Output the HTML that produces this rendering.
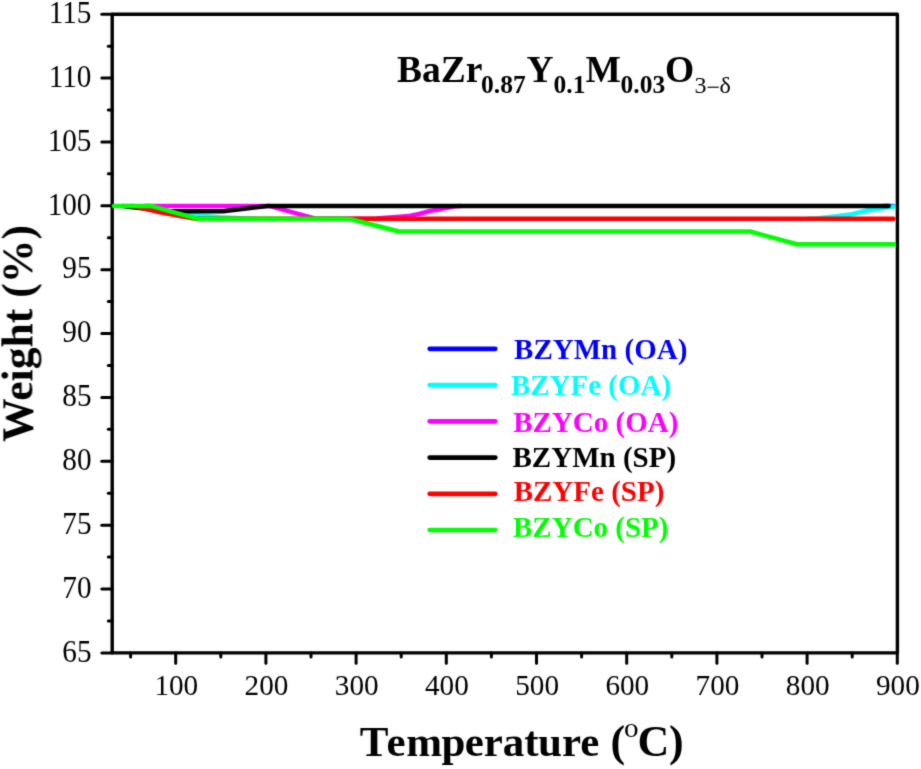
<!DOCTYPE html>
<html><head><meta charset="utf-8"><style>
html,body{margin:0;padding:0;background:#fff;width:921px;height:769px;overflow:hidden;}
svg{display:block;}
text{font-family:"Liberation Serif",serif;}
</style></head><body>
<svg width="921" height="769" viewBox="0 0 921 769">
<defs><filter id="bl" filterUnits="userSpaceOnUse" x="0" y="0" width="921" height="769" color-interpolation-filters="sRGB"><feConvolveMatrix order="3" kernelMatrix="0.01917 0.10012 0.01917 0.10012 0.52283 0.10012 0.01917 0.10012 0.01917" edgeMode="duplicate"/></filter></defs>
<g filter="url(#bl)">
<rect x="0" y="0" width="921" height="769" fill="#fff"/>
<g stroke="#000" stroke-width="3.0" fill="none" stroke-linecap="round">
<rect x="112.2" y="14.2" width="785.2" height="638.7" stroke-linejoin="round" stroke-width="3.4"/>
<line x1="101.8" y1="652.90" x2="112.2" y2="652.90"/>
<line x1="101.8" y1="589.03" x2="112.2" y2="589.03"/>
<line x1="101.8" y1="525.16" x2="112.2" y2="525.16"/>
<line x1="101.8" y1="461.29" x2="112.2" y2="461.29"/>
<line x1="101.8" y1="397.42" x2="112.2" y2="397.42"/>
<line x1="101.8" y1="333.55" x2="112.2" y2="333.55"/>
<line x1="101.8" y1="269.68" x2="112.2" y2="269.68"/>
<line x1="101.8" y1="205.81" x2="112.2" y2="205.81"/>
<line x1="101.8" y1="141.94" x2="112.2" y2="141.94"/>
<line x1="101.8" y1="78.07" x2="112.2" y2="78.07"/>
<line x1="101.8" y1="14.20" x2="112.2" y2="14.20"/>
<line x1="108.3" y1="620.96" x2="112.2" y2="620.96"/>
<line x1="108.3" y1="557.10" x2="112.2" y2="557.10"/>
<line x1="108.3" y1="493.22" x2="112.2" y2="493.22"/>
<line x1="108.3" y1="429.35" x2="112.2" y2="429.35"/>
<line x1="108.3" y1="365.48" x2="112.2" y2="365.48"/>
<line x1="108.3" y1="301.61" x2="112.2" y2="301.61"/>
<line x1="108.3" y1="237.74" x2="112.2" y2="237.74"/>
<line x1="108.3" y1="173.87" x2="112.2" y2="173.87"/>
<line x1="108.3" y1="110.00" x2="112.2" y2="110.00"/>
<line x1="108.3" y1="46.13" x2="112.2" y2="46.13"/>
<line x1="175.70" y1="652.9" x2="175.70" y2="663.2"/>
<line x1="265.90" y1="652.9" x2="265.90" y2="663.2"/>
<line x1="356.10" y1="652.9" x2="356.10" y2="663.2"/>
<line x1="446.30" y1="652.9" x2="446.30" y2="663.2"/>
<line x1="536.50" y1="652.9" x2="536.50" y2="663.2"/>
<line x1="626.70" y1="652.9" x2="626.70" y2="663.2"/>
<line x1="716.90" y1="652.9" x2="716.90" y2="663.2"/>
<line x1="807.10" y1="652.9" x2="807.10" y2="663.2"/>
<line x1="897.30" y1="652.9" x2="897.30" y2="663.2"/>
<line x1="130.60" y1="652.9" x2="130.60" y2="656.9"/>
<line x1="220.80" y1="652.9" x2="220.80" y2="656.9"/>
<line x1="311.00" y1="652.9" x2="311.00" y2="656.9"/>
<line x1="401.20" y1="652.9" x2="401.20" y2="656.9"/>
<line x1="491.40" y1="652.9" x2="491.40" y2="656.9"/>
<line x1="581.60" y1="652.9" x2="581.60" y2="656.9"/>
<line x1="671.80" y1="652.9" x2="671.80" y2="656.9"/>
<line x1="762.00" y1="652.9" x2="762.00" y2="656.9"/>
<line x1="852.20" y1="652.9" x2="852.20" y2="656.9"/>
</g>
<g fill="none" stroke-width="4.5" stroke-linecap="round" stroke-linejoin="round">
<polyline points="884,205.90999999999994 893.3,205.90999999999994" stroke="#0000FF"/>
<polyline points="127,205.90999999999994 128,205.90999999999994 145,208.3 180,214.3 205,216.0 220,217.2 250,218.68399999999997 256,218.68399999999997" stroke="#00FFFF"/>
<polyline points="808,218.68399999999997 814,218.68399999999997 830,216.9 852,214.3 868,210.3 893.5,206.6" stroke="#00FFFF"/>
<polyline points="145,205.90999999999994 269,205.90999999999994 315.5,218.68399999999997 375,218.68399999999997 379,218.2 400,216.7 408,216.1 419,213.9 430,211.0 445,208.4 455,206.3 461,205.90999999999994" stroke="#FF00FF"/>
<polyline points="123,206.1 128,206.8 140,208.0 168,211.2 223,211.2 248,208.2 268,205.90999999999994 888.6,205.90999999999994" stroke="#000000"/>
<polyline points="131,205.90999999999994 133,205.90999999999994 140,207.6 160,212.3 180,216.0 196,218.68399999999997 893.5,218.68399999999997" stroke="#FF0000"/>
<polyline points="113.9,205.90999999999994 151,205.90999999999994 197,218.68399999999997 346,218.68399999999997 352,219.5 399,231.45799999999997 750,231.45799999999997 797,244.23199999999994 894,244.23199999999994" stroke="#00FF00"/>
</g>
<g font-size="30" text-anchor="end" fill="#000">
<text transform="translate(91.5,661.6) scale(0.975,1.04)">65</text>
<text transform="translate(91.5,597.7) scale(0.975,1.04)">70</text>
<text transform="translate(91.5,533.9) scale(0.975,1.04)">75</text>
<text transform="translate(91.5,470.0) scale(0.975,1.04)">80</text>
<text transform="translate(91.5,406.1) scale(0.975,1.04)">85</text>
<text transform="translate(91.5,342.2) scale(0.975,1.04)">90</text>
<text transform="translate(91.5,278.4) scale(0.975,1.04)">95</text>
<text transform="translate(91.5,214.5) scale(0.975,1.04)">100</text>
<text transform="translate(91.5,150.6) scale(0.975,1.04)">105</text>
<text transform="translate(91.5,86.8) scale(0.975,1.04)">110</text>
<text transform="translate(91.5,22.9) scale(0.975,1.04)">115</text>
</g>
<g font-size="30" text-anchor="middle" fill="#000">
<text transform="translate(176.3,695.2) scale(0.975,1.0)">100</text>
<text transform="translate(266.5,695.2) scale(0.975,1.0)">200</text>
<text transform="translate(356.7,695.2) scale(0.975,1.0)">300</text>
<text transform="translate(446.9,695.2) scale(0.975,1.0)">400</text>
<text transform="translate(537.1,695.2) scale(0.975,1.0)">500</text>
<text transform="translate(627.3,695.2) scale(0.975,1.0)">600</text>
<text transform="translate(717.5,695.2) scale(0.975,1.0)">700</text>
<text transform="translate(807.7,695.2) scale(0.975,1.0)">800</text>
<text transform="translate(897.9,695.2) scale(0.975,1.0)">900</text>
</g>
<g font-size="29" font-weight="bold" stroke-width="4.7" stroke-linecap="round">
<line x1="429.7" y1="348.8" x2="495.3" y2="348.8" stroke="#0000FF"/>
<text x="514.1" y="359.1" fill="#0000FF">BZYMn (OA)</text>
<line x1="429.7" y1="385.1" x2="495.3" y2="385.1" stroke="#00FFFF"/>
<text x="510.9" y="395.2" fill="#00FFFF">BZYFe (OA)</text>
<line x1="429.7" y1="421.3" x2="495.3" y2="421.3" stroke="#FF00FF"/>
<text x="513.2" y="432.3" fill="#FF00FF">BZYCo (OA)</text>
<line x1="429.7" y1="457.6" x2="495.3" y2="457.6" stroke="#000000"/>
<text x="512.5" y="467.4" fill="#000000">BZYMn (SP)</text>
<line x1="429.7" y1="493.8" x2="495.3" y2="493.8" stroke="#FF0000"/>
<text x="513.7" y="500.9" fill="#FF0000">BZYFe (SP)</text>
<line x1="429.7" y1="530.0" x2="495.3" y2="530.0" stroke="#00FF00"/>
<text x="513.0" y="536.6" fill="#00FF00">BZYCo (SP)</text>
</g>
<text font-weight="bold" font-size="37.5"><tspan x="397.0" y="81.6">BaZr</tspan><tspan x="481.0" y="92.6" font-size="25.5">0.87</tspan><tspan x="526.5" y="81.6">Y</tspan><tspan x="553.6" y="92.6" font-size="25.5">0.1</tspan><tspan x="585.4" y="81.6">M</tspan><tspan x="620.6" y="92.6" font-size="25.5">0.03</tspan><tspan x="664.9" y="81.6">O</tspan><tspan x="694.4" y="92.89999999999999" font-size="24" font-weight="normal">3</tspan><tspan x="706.6" y="95.19999999999999" font-size="24" font-weight="normal">&#8722;</tspan><tspan x="719.6" y="92.89999999999999" font-size="24" font-weight="normal">&#948;</tspan></text>
<g font-size="44" font-weight="bold">
<text x="359.7" y="756.2" font-size="43" dx="0 2.1 0.7 -0.7 -0.7 0 0 0 -0.7 0 0">Temperature</text>
<text x="610.6" y="756.2">(</text>
<text transform="translate(623.9,736.6) scale(1.1,1)" font-size="26.5" font-weight="normal">o</text>
<text x="637.6" y="756.2">C</text>
<text x="669.0" y="756.2">)</text>
</g>
<text transform="translate(32.4,442.0) rotate(-90) scale(0.992,1)" font-size="44" font-weight="bold">Weight (%)</text>
</g>
</svg>
</body></html>
